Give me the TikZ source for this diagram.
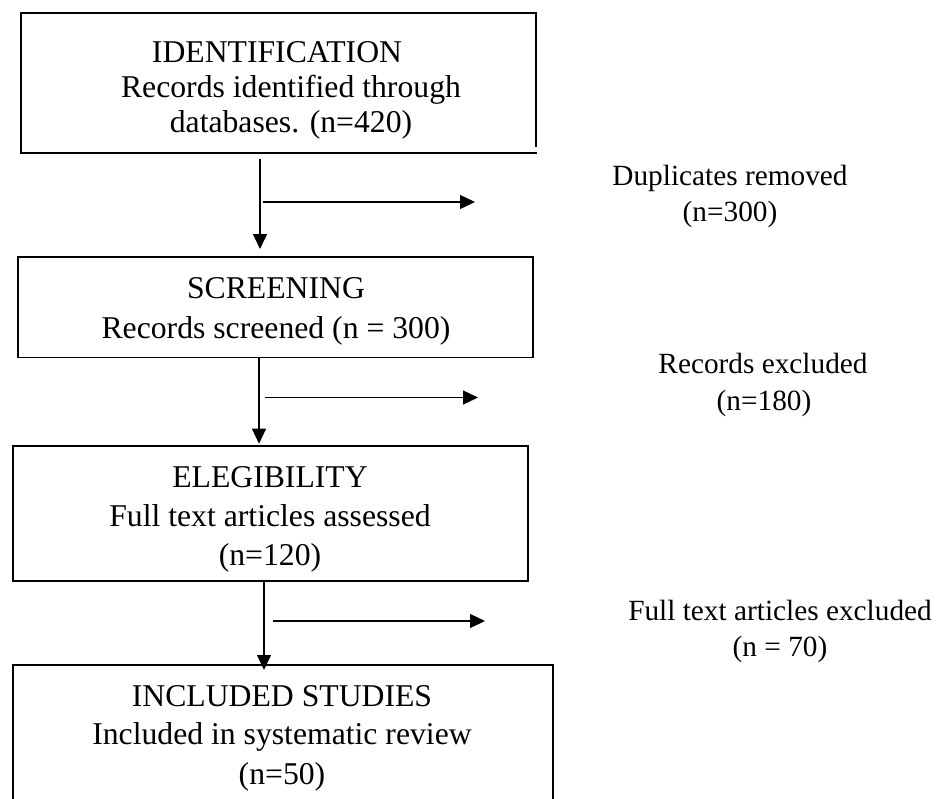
\documentclass[tikz,border=0pt]{standalone}
\usepackage{fontspec}
\setmainfont{Liberation Serif}
\usetikzlibrary{arrows.meta,calc}
\begin{document}
\begin{tikzpicture}[x=1pt,y=-1pt,
  boxline/.style={line width=1.8pt,line cap=rect},
  frame/.style={rectangle,inner sep=0pt,outer sep=0pt,anchor=north west},
  drawnframe/.style={frame,draw,line width=1.8pt},
  arr/.style={line width=1.3pt,-{Triangle[length=15pt,width=14pt]}},
  boxtext/.style={anchor=base,inner sep=0pt,font=\fontsize{31.7}{38}\selectfont},
  sidetext/.style={anchor=base,inner sep=0pt,font=\fontsize{29.3}{37}\selectfont}]
\useasboundingbox[fill=white] (0,0) rectangle (944,798);
\clip (0,0) rectangle (944,798);
% boxes
\node[frame,minimum width=515.3pt,minimum height=140pt] (b1) at (20.7,12.7) {};
\draw[boxline] ($(b1.south east)+(0,-7)$) -- (b1.north east) -- (b1.north west) -- (b1.south west) -- (b1.south east);
\node[drawnframe,minimum width=514.7pt,minimum height=100.4pt] (b2) at (18.3,257) {};
\node[drawnframe,minimum width=515.3pt,minimum height=135.3pt] (b3) at (12.7,445.7) {};
\node[drawnframe,minimum width=540.3pt,minimum height=175pt] (b4) at (12.7,665) {};
% box texts
\node[boxtext] (t1a) at (277,62) {IDENTIFICATION};
\node[boxtext] (t1b) at (291,97) {Records identified through};
\node[boxtext] (t1c) at (291,132) {databases. (n=420)};
\node[boxtext] (t2a) at (276,298.7) {SCREENING};
\node[boxtext] (t2b) at (276,338) {Records screened (n = 300)};
\node[boxtext] (t3a) at (270,487) {ELEGIBILITY};
\node[boxtext] (t3b) at (270,526.5) {Full text articles assessed};
\node[boxtext] (t3c) at (270,565.6) {(n=120)};
\node[boxtext] (t4a) at (282,706) {INCLUDED STUDIES};
\node[boxtext] (t4b) at (282,744.6) {Included in systematic review};
\node[boxtext] (t4c) at (282,784.5) {(n=50)};
% side labels
\node[sidetext] (s1a) at (730,185) {Duplicates removed};
\node[sidetext] (s1b) at (730,221.7) {(n=300)};
\node[sidetext] (s2a) at (763,373) {Records excluded};
\node[sidetext] (s2b) at (764,410) {(n=180)};
\node[sidetext] (s3a) at (780,620) {Full text articles excluded};
\node[sidetext] (s3b) at (780,656) {(n = 70)};
% down arrows
\coordinate (x1) at (260,0);
\coordinate (x2) at (259,0);
\coordinate (x3) at (264,0);
\draw[arr] ($(b1.south -| x1)+(0,6)$) -- ($(b2.north -| x1)+(0,-8)$);
\draw[arr] (b2.south -| x2) -- ($(b3.north -| x2)+(0,-2)$);
\draw[arr] (b3.south -| x3) -- ($(b4.north -| x3)+(0,5)$);
% side arrows
\coordinate (h1s) at (263,202);
\coordinate (h1e) at (475,202);
\coordinate (h2s) at (265,397.5);
\coordinate (h2e) at (478,397.5);
\coordinate (h3s) at (273,621);
\coordinate (h3e) at (485,621);
\draw[arr] (h1s) -- (h1e);
\draw[arr] (h2s) -- (h2e);
\draw[arr] (h3s) -- (h3e);
\end{tikzpicture}
\end{document}
